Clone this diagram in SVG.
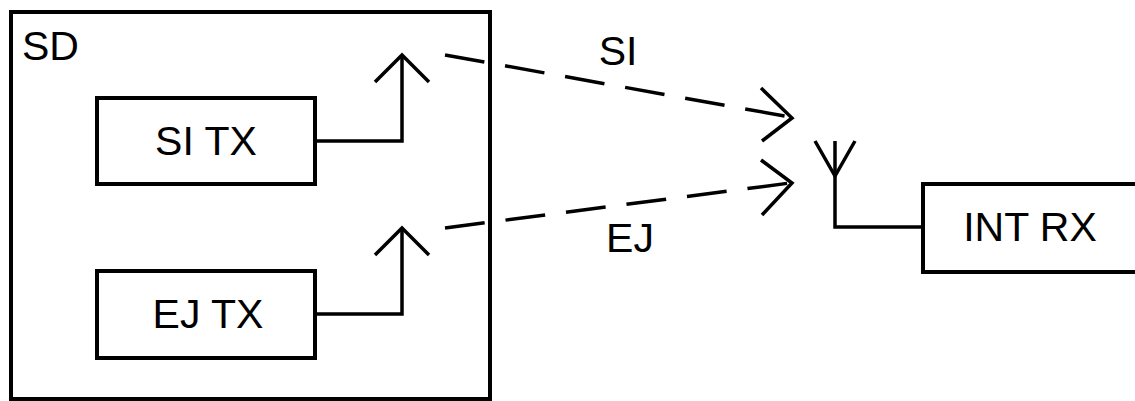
<svg xmlns="http://www.w3.org/2000/svg" width="1135" height="401" viewBox="0 0 1135 401">
<style>
.box{fill:#fff;stroke:#000;stroke-width:4}
.ln{fill:none;stroke:#000;stroke-width:3.5;stroke-linecap:butt;stroke-linejoin:miter}
.ds{fill:none;stroke:#000;stroke-width:3.5;stroke-dasharray:40 21}
.t{font-family:"Liberation Sans",Arial,sans-serif;font-size:41px;fill:#000}
</style>
<rect width="1135" height="401" fill="#fff"/>
<g id="SD">
<rect class="box" x="11" y="12" width="479" height="387"/>
<text class="t" x="22" y="60">SD</text>
</g>
<g id="SITX">
<rect class="box" x="97" y="98" width="218" height="86"/>
<text class="t" x="206" y="155" text-anchor="middle">SI TX</text>
</g>
<g id="EJTX">
<rect class="box" x="97" y="271" width="218" height="87"/>
<text class="t" x="208" y="328" text-anchor="middle">EJ TX</text>
</g>
<g id="INTRX">
<rect class="box" x="923" y="184" width="230" height="88"/>
<text class="t" x="1030" y="241" text-anchor="middle">INT RX</text>
</g>
<g id="connectors">
<polyline class="ln" points="315,141 402,141 402,56"/>
<polyline class="ln" points="375,82 402,55 429,82"/>
<polyline class="ln" points="315,314 402,314 402,229"/>
<polyline class="ln" points="375,255 402,228 429,255"/>
<line class="ds" x1="445" y1="55" x2="790" y2="117"/>
<polyline class="ln" points="761,88 792,118 762,141"/>
<line class="ds" x1="445" y1="228" x2="790" y2="183"/>
<polyline class="ln" points="761,160 792,183 762,215"/>
<polyline class="ln" points="815,141 835,176 855,141"/>
<polyline class="ln" points="835,141 835,227 923,227"/>
<text class="t" x="618" y="65" text-anchor="middle">SI</text>
<text class="t" x="630" y="252" text-anchor="middle">EJ</text>
</g>
</svg>
